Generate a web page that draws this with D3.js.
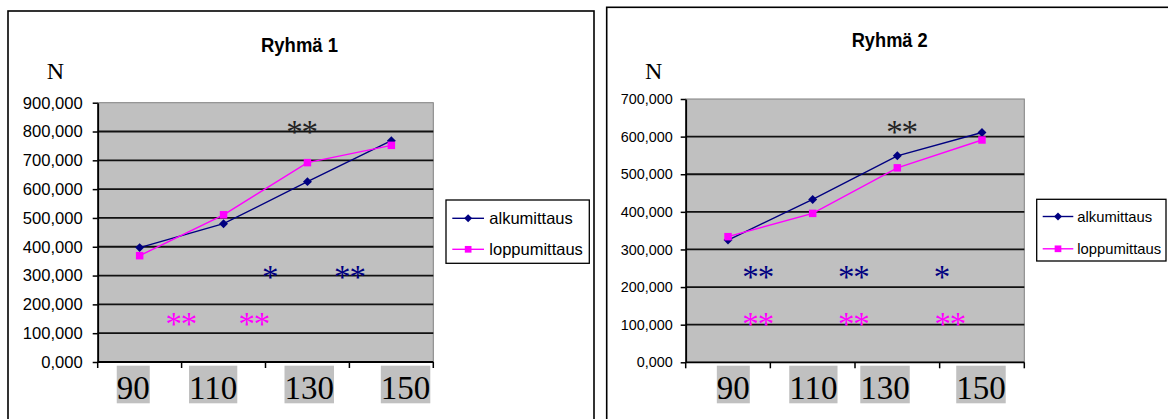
<!DOCTYPE html>
<html><head><meta charset="utf-8">
<script src="https://cdn.jsdelivr.net/npm/d3@7"></script>
<style>body{margin:0;background:#fff;} svg{display:block}</style>
</head><body>
<svg id="c" width="1168" height="419"></svg>
<script>
// ---------- data ----------
const categories = ["90", "110", "130", "150"];
const seriesNames = ["alkumittaus", "loppumittaus"];
const g1Alku = [397, 480, 626, 768];
const g1Loppu = [369, 511, 692, 752];
const g2Alku = [325, 433, 549, 611];
const g2Loppu = [334, 396, 517, 591];
const g1Ticks = [0, 100, 200, 300, 400, 500, 600, 700, 800, 900];
const g2Ticks = [0, 100, 200, 300, 400, 500, 600, 700];
const titles = ["Ryhmä 1", "Ryhmä 2"];
const yUnit = "N";
// significance notes: [text, series index (-1 = none), category position, value]
const g1Notes = [["**", -1, 1.93, 815], ["*", 0, 1.55, 313], ["**", 0, 2.50, 313], ["**", 1, 0.49, 149], ["**", 1, 1.36, 149]];
const g2Notes = [["**", -1, 2.05, 626], ["**", 0, 0.35, 241], ["**", 0, 1.48, 241], ["*", 0, 2.52, 241], ["**", 1, 0.35, 114], ["**", 1, 1.48, 114], ["**", 1, 2.62, 114]];

// ---------- styles / layout ----------
const colors = ["#000080", "#ff00ff"];
const fmt = d3.formatLocale({decimal: ",", thousands: " ", grouping: [3], currency: ["", ""]}).format(".3f");

const charts = [
  {title: titles[0], alku: g1Alku, loppu: g1Loppu, ticks: g1Ticks, notes: g1Notes,
   box: {x: 8, y: 11, w: 586, h: 420},
   plot: {l: 97.7, t: 102.7, r: 433.3, b: 362},
   tickFont: 16.6, tickGap: 15,
   titleX: 299.5, titleY: 51.5, titleLen: 77,
   nX: 46.7, nY: 79,
   labelShift: [-6.4, -10.4, 1.8, 14.2],
   legend: {x: 446, y: 200, w: 143.3, h: 63.3, lineX0: 452.3, lineX1: 484, textX: 489.3, rows: [218.3, 249.3], font: 16.5}},
  {title: titles[1], alku: g2Alku, loppu: g2Loppu, ticks: g2Ticks, notes: g2Notes,
   box: {x: 606.7, y: 7.3, w: 600, h: 420},
   plot: {l: 685.7, t: 99, r: 1024.3, b: 362.3},
   tickFont: 14.4, tickGap: 13,
   titleX: 889.7, titleY: 46.5, titleLen: 76,
   nX: 645, nY: 79,
   labelShift: [5.3, 0.7, -12.3, -1],
   legend: {x: 1036.7, y: 199.3, w: 129.3, h: 61.7, lineX0: 1042.7, lineX1: 1073.3, textX: 1077.3, rows: [216.5, 248.8], font: 14.8}}
];

const svg = d3.select("#c");

function marker(sel, si, cx, cy, scale) {
  if (si === 0) {
    sel.append("path").attr("transform", `translate(${cx},${cy}) rotate(45)`)
      .attr("d", d3.symbol().type(d3.symbolSquare).size(40 * scale)).attr("fill", colors[0]);
  } else {
    sel.append("path").attr("transform", `translate(${cx},${cy})`)
      .attr("d", d3.symbol().type(d3.symbolSquare).size(56 * scale)).attr("fill", colors[1]);
  }
}

charts.forEach(cfg => {
  const g = svg.append("g");
  // outer frame
  g.append("rect").attr("x", cfg.box.x).attr("y", cfg.box.y).attr("width", cfg.box.w).attr("height", cfg.box.h)
    .attr("fill", "#fff").attr("stroke", "#000").attr("stroke-width", 1.6);

  const x = d3.scaleBand().domain(categories).range([cfg.plot.l, cfg.plot.r]).padding(0);
  const y = d3.scaleLinear().domain([0, d3.max(cfg.ticks)]).range([cfg.plot.b, cfg.plot.t]);
  const xi = d3.scaleLinear().domain([0, categories.length - 1])
    .range([x(categories[0]) + x.bandwidth() / 2, x(categories[categories.length - 1]) + x.bandwidth() / 2]);

  // plot area
  g.append("rect").attr("x", cfg.plot.l).attr("y", cfg.plot.t)
    .attr("width", cfg.plot.r - cfg.plot.l).attr("height", cfg.plot.b - cfg.plot.t)
    .attr("fill", "#c0c0c0").attr("stroke", "#808080").attr("stroke-width", 1);

  // gridlines
  g.append("g").selectAll("line").data(cfg.ticks.filter(t => t > 0 && t < d3.max(cfg.ticks))).join("line")
    .attr("x1", cfg.plot.l).attr("x2", cfg.plot.r)
    .attr("y1", d => y(d)).attr("y2", d => y(d))
    .attr("stroke", "#111").attr("stroke-width", 1.8);

  // y axis
  const ya = g.append("g").attr("transform", `translate(${cfg.plot.l},0)`)
    .call(d3.axisLeft(y).tickValues(cfg.ticks).tickFormat(fmt).tickSize(5).tickSizeOuter(0).tickPadding(cfg.tickGap - 5));
  ya.select(".domain").attr("stroke", "#000").attr("stroke-width", 1.8);
  ya.selectAll(".tick line").attr("stroke", "#000").attr("stroke-width", 1.5);
  ya.selectAll("text").attr("font-family", "Arial, 'Liberation Sans', sans-serif")
    .attr("font-size", cfg.tickFont).attr("fill", "#000");

  // x axis line + ticks at category boundaries
  const xa = g.append("g");
  xa.append("line").attr("x1", cfg.plot.l).attr("x2", cfg.plot.r).attr("y1", cfg.plot.b).attr("y2", cfg.plot.b)
    .attr("stroke", "#000").attr("stroke-width", 1.8);
  const bounds = categories.map(c => x(c)).concat([x.range()[1]]);
  xa.selectAll("line.t").data(bounds).join("line").attr("class", "t")
    .attr("x1", d => d).attr("x2", d => d).attr("y1", cfg.plot.b).attr("y2", cfg.plot.b + 6)
    .attr("stroke", "#000").attr("stroke-width", 1.5);

  // x labels with grey highlight
  categories.forEach((c, i) => {
    const cx = x(c) + x.bandwidth() / 2 + cfg.labelShift[i];
    const rect = xa.append("rect").attr("fill", "#c0c0c0");
    const t = xa.append("text").attr("x", cx).attr("y", 399).attr("text-anchor", "middle")
      .attr("font-family", "'Times New Roman', 'Liberation Serif', serif").attr("font-size", 33).attr("fill", "#000").text(c);
    const w = t.node().getComputedTextLength();
    rect.attr("x", cx - w / 2).attr("y", 365.7).attr("width", w).attr("height", 37.6);
  });

  // series
  const series = [cfg.alku, cfg.loppu];
  series.forEach((vals, si) => {
    const line = d3.line().x((d, i) => x(categories[i]) + x.bandwidth() / 2).y(d => y(d));
    g.append("path").attr("d", line(vals)).attr("fill", "none").attr("stroke", colors[si]).attr("stroke-width", 1.4);
    const mg = g.append("g");
    vals.forEach((v, i) => marker(mg, si, x(categories[i]) + x.bandwidth() / 2, y(v), 1));
  });

  // significance notes
  g.append("g").selectAll("text").data(cfg.notes).join("text")
    .attr("x", d => xi(d[2])).attr("y", d => y(d[3]) + 16)
    .attr("text-anchor", "middle")
    .attr("font-family", "'Times New Roman', 'Liberation Serif', serif").attr("font-size", 33)
    .attr("letter-spacing", -1.2)
    .attr("fill", d => d[1] < 0 ? "#222" : colors[d[1]]).text(d => d[0]);

  // title
  g.append("text").attr("x", cfg.titleX).attr("y", cfg.titleY).attr("text-anchor", "middle")
    .attr("font-family", "Arial, 'Liberation Sans', sans-serif").attr("font-weight", "bold").attr("font-size", 21)
    .attr("textLength", cfg.titleLen).attr("lengthAdjust", "spacingAndGlyphs").text(cfg.title);

  // unit
  g.append("text").attr("x", cfg.nX).attr("y", cfg.nY)
    .attr("font-family", "'Times New Roman', 'Liberation Serif', serif").attr("font-size", 24).text(yUnit);

  // legend
  const L = cfg.legend;
  const lg = g.append("g");
  lg.append("rect").attr("x", L.x).attr("y", L.y).attr("width", L.w).attr("height", L.h)
    .attr("fill", "#fff").attr("stroke", "#000").attr("stroke-width", 1.3);
  seriesNames.forEach((n, si) => {
    const ry = L.rows[si];
    lg.append("line").attr("x1", L.lineX0).attr("x2", L.lineX1).attr("y1", ry).attr("y2", ry)
      .attr("stroke", colors[si]).attr("stroke-width", 1.4);
    marker(lg, si, (L.lineX0 + L.lineX1) / 2, ry, 0.8);
    lg.append("text").attr("x", L.textX).attr("y", ry).attr("dy", "0.36em")
      .attr("font-family", "Arial, 'Liberation Sans', sans-serif").attr("font-size", L.font).text(n);
  });
});
</script>
</body></html>
